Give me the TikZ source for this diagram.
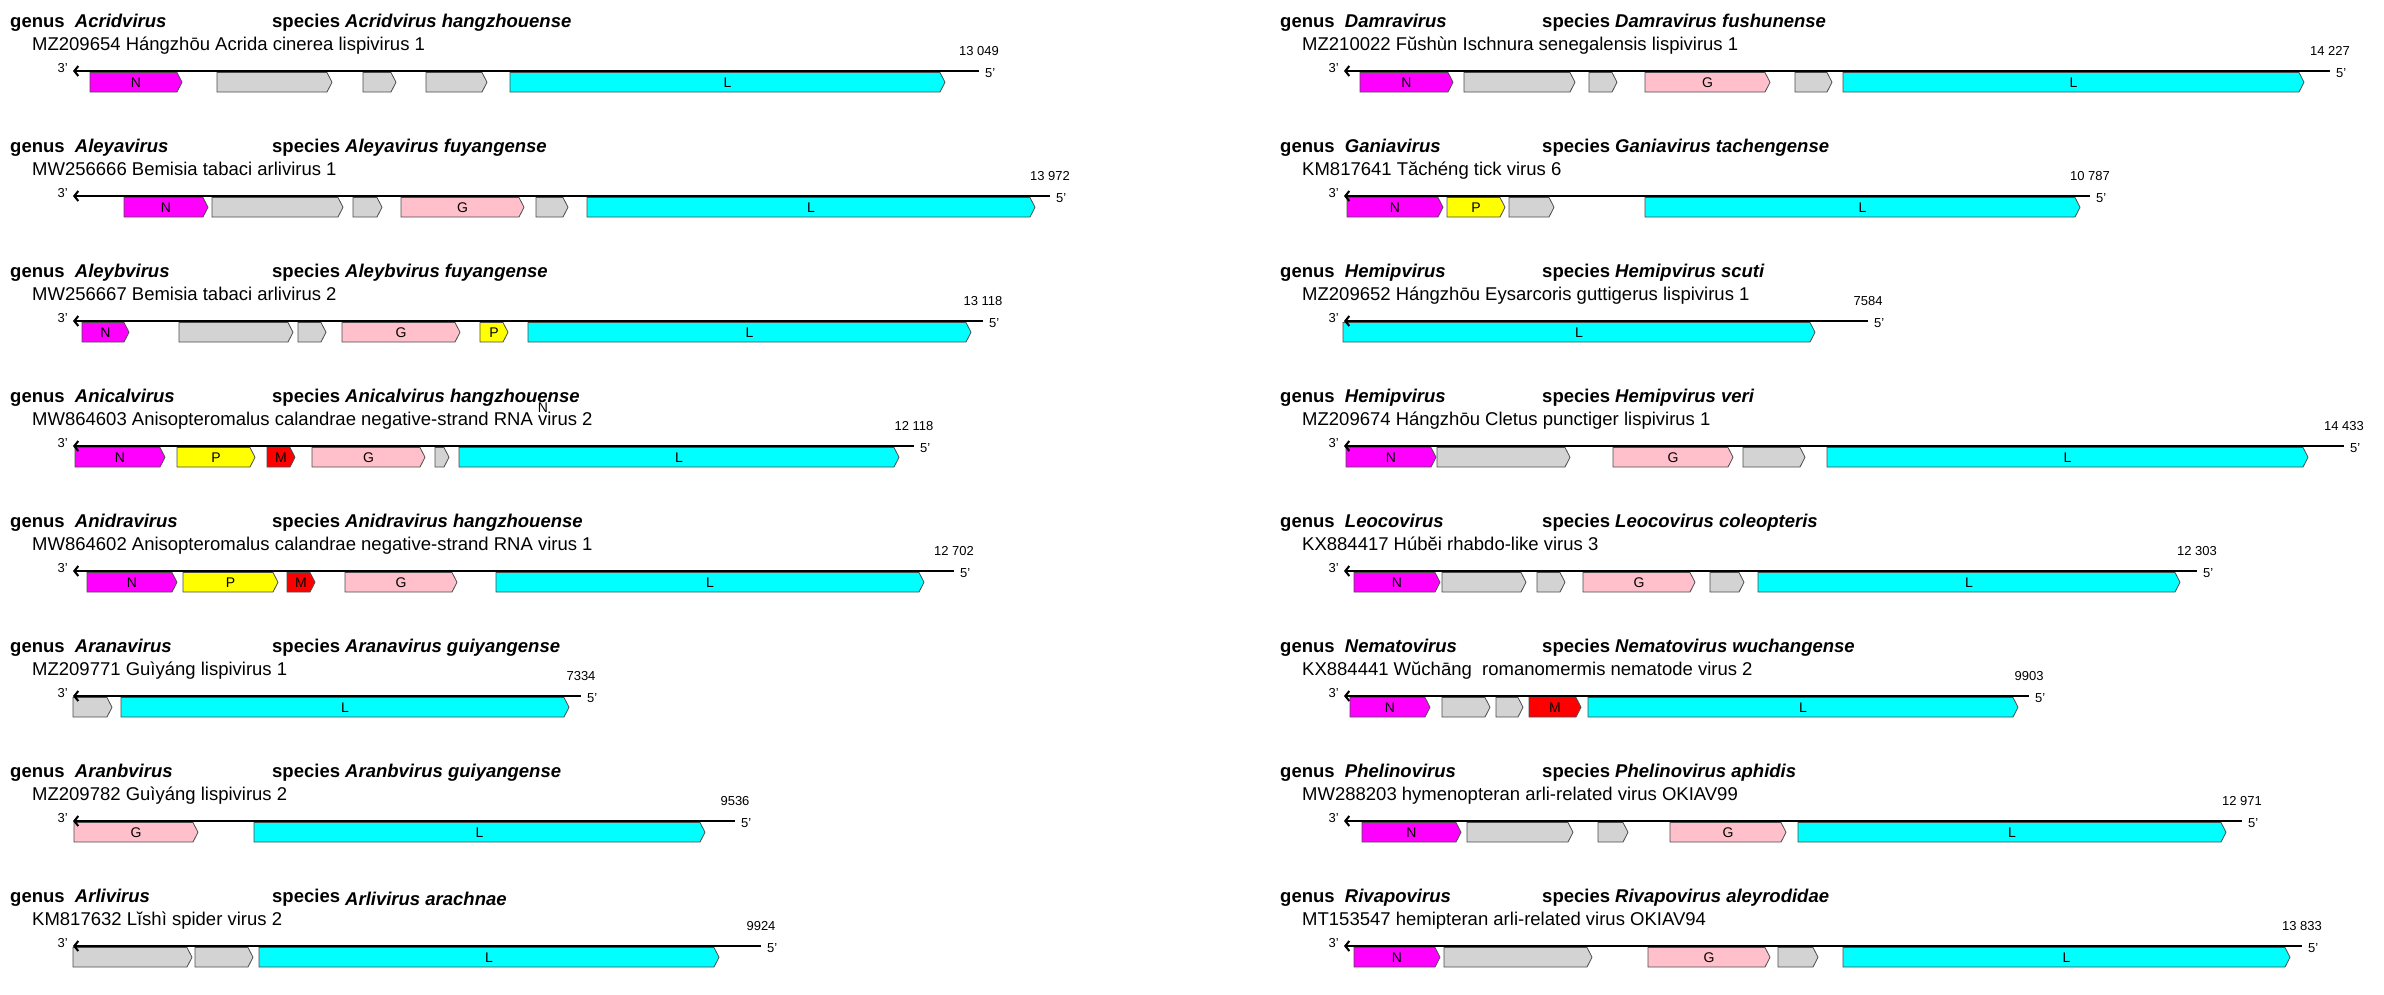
\documentclass[tikz,border=0pt]{standalone}
\usepackage{fontspec}
\setmainfont{Liberation Sans}
\usepackage{xcolor}
\usetikzlibrary{arrows.meta}

\definecolor{orfN}{RGB}{255,0,255}
\definecolor{orfP}{RGB}{255,255,0}
\definecolor{orfM}{RGB}{255,0,0}
\definecolor{orfG}{RGB}{255,192,203}
\definecolor{orfL}{RGB}{0,255,255}
\definecolor{orfX}{RGB}{211,211,211}

\begin{document}
\begin{tikzpicture}
[
	x=1pt, y=-1pt,
	genomeline/.style={line width=2pt, {Straight Barb[length=4pt,width=10pt]}-},
	orf/.style={draw=black!70, line width=0.8pt},
	orflabel/.style={font=\fontsize{14}{14}\selectfont, inner sep=0pt},
	endlabel/.style={font=\fontsize{13}{14}\selectfont, inner sep=0pt},
	titletext/.style={font=\fontsize{18.5}{20}\selectfont\bfseries, anchor=base west, inner sep=0pt},
	acctext/.style={font=\fontsize{18.5}{20}\selectfont, anchor=base west, inner sep=0pt}
]

% name, x, line y, genus, species, accession
\newcommand{\rowhead}[6]{%
	\node[titletext] (#1-genus) at (#2,#3-44) {genus~~\textit{#4}};
	\node[titletext] (#1-species) at (#2+262,#3-44) {species \textit{#5}};
	\node[acctext] (#1-acc) at (#2+22,#3-21) {#6};
}
% name, line y, 3' end, 5' end, length
\newcommand{\genome}[5]{%
	\coordinate (#1-3) at (#3,#2);
	\coordinate (#1-5) at (#4,#2);
	\draw[genomeline] (#1-3) -- (#1-5);
	\node[endlabel, anchor=base east] (#1-t3) at (#3-5,#2+1) {3'};
	\node[endlabel, anchor=base west] (#1-t5) at (#4+6,#2+6) {5'};
	\node[endlabel, anchor=base] (#1-len) at (#4,#2-16) {#5};
}
% name, line y, x from, x to, colour, label
\newcommand{\orf}[6]{%
	\filldraw[orf, fill=#5] (#3,#2+1.5) -- (#4-5,#2+1.5) -- (#4,#2+11.25) -- (#4-5,#2+21) -- (#3,#2+21) -- cycle;
	\node[orflabel] (#1) at ({(#3+#4)/2},#2+11.5) {#6};
}

\useasboundingbox (0,0) rectangle (2384,994);

% Left column
% Acridvirus
\rowhead{acr}{10}{71}{Acridvirus}{Acridvirus hangzhouense}{MZ209654 Hángzhōu Acrida cinerea lispivirus 1}
\orf{acr1}{71}{90}{182}{orfN}{N}
\orf{acr2}{71}{217}{332}{orfX}{}
\orf{acr3}{71}{363}{396}{orfX}{}
\orf{acr4}{71}{426}{487}{orfX}{}
\orf{acr5}{71}{510}{945}{orfL}{L}
\genome{acr}{71}{73}{979}{13 049}

% Aleyavirus
\rowhead{aya}{10}{196}{Aleyavirus}{Aleyavirus fuyangense}{MW256666 Bemisia tabaci arlivirus 1}
\orf{aya1}{196}{124}{208}{orfN}{N}
\orf{aya2}{196}{212}{343}{orfX}{}
\orf{aya3}{196}{353}{382}{orfX}{}
\orf{aya4}{196}{401}{524}{orfG}{G}
\orf{aya5}{196}{536}{568}{orfX}{}
\orf{aya6}{196}{587}{1035}{orfL}{L}
\genome{aya}{196}{73}{1050}{13 972}

% Aleybvirus
\rowhead{ayb}{10}{321}{Aleybvirus}{Aleybvirus fuyangense}{MW256667 Bemisia tabaci arlivirus 2}
\orf{ayb1}{321}{82}{129}{orfN}{N}
\orf{ayb2}{321}{179}{293}{orfX}{}
\orf{ayb3}{321}{298}{326}{orfX}{}
\orf{ayb4}{321}{342}{460}{orfG}{G}
\orf{ayb5}{321}{480}{508}{orfP}{P}
\orf{ayb6}{321}{528}{971}{orfL}{L}
\genome{ayb}{321}{73}{983}{13 118}

% Anicalvirus
\rowhead{anc}{10}{446}{Anicalvirus}{Anicalvirus hangzhouense}{MW864603 Anisopteromalus calandrae negative-strand RNA virus 2}
\node[endlabel, font=\fontsize{14}{14}\selectfont, anchor=base] (anc-stray) at (543,412) {N};
\orf{anc1}{446}{75}{165}{orfN}{N}
\orf{anc2}{446}{177}{255}{orfP}{P}
\orf{anc3}{446}{267}{295}{orfM}{M}
\orf{anc4}{446}{312}{425}{orfG}{G}
\orf{anc5}{446}{435}{449}{orfX}{}
\orf{anc6}{446}{459}{899}{orfL}{L}
\genome{anc}{446}{73}{914}{12 118}

% Anidravirus
\rowhead{and}{10}{571}{Anidravirus}{Anidravirus hangzhouense}{MW864602 Anisopteromalus calandrae negative-strand RNA virus 1}
\orf{and1}{571}{87}{177}{orfN}{N}
\orf{and2}{571}{183}{278}{orfP}{P}
\orf{and3}{571}{287}{315}{orfM}{M}
\orf{and4}{571}{345}{457}{orfG}{G}
\orf{and5}{571}{496}{924}{orfL}{L}
\genome{and}{571}{73}{954}{12 702}

% Aranavirus
\rowhead{ara}{10}{696}{Aranavirus}{Aranavirus guiyangense}{MZ209771 Guìyáng lispivirus 1}
\orf{ara1}{696}{73}{112}{orfX}{}
\orf{ara2}{696}{121}{569}{orfL}{L}
\genome{ara}{696}{73}{581}{7334}

% Aranbvirus
\rowhead{arb}{10}{821}{Aranbvirus}{Aranbvirus guiyangense}{MZ209782 Guìyáng lispivirus 2}
\orf{arb1}{821}{74}{198}{orfG}{G}
\orf{arb2}{821}{254}{705}{orfL}{L}
\genome{arb}{821}{73}{735}{9536}

% Arlivirus
\rowhead{arl}{10}{946}{Arlivirus}{\raisebox{-3pt}{Arlivirus arachnae}}{KM817632 Lĭshì spider virus 2}
\orf{arl1}{946}{73}{192}{orfX}{}
\orf{arl2}{946}{195}{253}{orfX}{}
\orf{arl3}{946}{259}{719}{orfL}{L}
\genome{arl}{946}{73}{761}{9924}

% Right column
% Damravirus
\rowhead{dam}{1280}{71}{Damravirus}{Damravirus fushunense}{MZ210022 Fŭshùn Ischnura senegalensis lispivirus 1}
\orf{dam1}{71}{1360}{1453}{orfN}{N}
\orf{dam2}{71}{1464}{1575}{orfX}{}
\orf{dam3}{71}{1589}{1617}{orfX}{}
\orf{dam4}{71}{1645}{1770}{orfG}{G}
\orf{dam5}{71}{1795}{1832}{orfX}{}
\orf{dam6}{71}{1843}{2304}{orfL}{L}
\genome{dam}{71}{1344}{2330}{14 227}

% Ganiavirus
\rowhead{gan}{1280}{196}{Ganiavirus}{Ganiavirus tachengense}{KM817641 Tăchéng tick virus 6}
\orf{gan1}{196}{1347}{1443}{orfN}{N}
\orf{gan2}{196}{1447}{1505}{orfP}{P}
\orf{gan3}{196}{1509}{1554}{orfX}{}
\orf{gan4}{196}{1645}{2080}{orfL}{L}
\genome{gan}{196}{1344}{2090}{10 787}

% Hemipvirus scuti
\rowhead{hms}{1280}{321}{Hemipvirus}{Hemipvirus scuti}{MZ209652 Hángzhōu Eysarcoris guttigerus lispivirus 1}
\orf{hms1}{321}{1343}{1815}{orfL}{L}
\genome{hms}{321}{1344}{1868}{7584}

% Hemipvirus veri
\rowhead{hmv}{1280}{446}{Hemipvirus}{Hemipvirus veri}{MZ209674 Hángzhōu Cletus punctiger lispivirus 1}
\orf{hmv1}{446}{1346}{1436}{orfN}{N}
\orf{hmv2}{446}{1437}{1570}{orfX}{}
\orf{hmv3}{446}{1613}{1733}{orfG}{G}
\orf{hmv4}{446}{1743}{1805}{orfX}{}
\orf{hmv5}{446}{1827}{2308}{orfL}{L}
\genome{hmv}{446}{1344}{2344}{14 433}

% Leocovirus
\rowhead{leo}{1280}{571}{Leocovirus}{Leocovirus coleopteris}{KX884417 Húbĕi rhabdo-like virus 3}
\orf{leo1}{571}{1354}{1440}{orfN}{N}
\orf{leo2}{571}{1442}{1526}{orfX}{}
\orf{leo3}{571}{1537}{1565}{orfX}{}
\orf{leo4}{571}{1583}{1695}{orfG}{G}
\orf{leo5}{571}{1710}{1744}{orfX}{}
\orf{leo6}{571}{1758}{2180}{orfL}{L}
\genome{leo}{571}{1344}{2197}{12 303}

% Nematovirus
\rowhead{nem}{1280}{696}{Nematovirus}{Nematovirus wuchangense}{KX884441 Wŭchāng~~romanomermis nematode virus 2}
\orf{nem1}{696}{1350}{1430}{orfN}{N}
\orf{nem2}{696}{1442}{1490}{orfX}{}
\orf{nem3}{696}{1496}{1523}{orfX}{}
\orf{nem4}{696}{1529}{1581}{orfM}{M}
\orf{nem5}{696}{1588}{2018}{orfL}{L}
\genome{nem}{696}{1344}{2029}{9903}

% Phelinovirus
\rowhead{phe}{1280}{821}{Phelinovirus}{Phelinovirus aphidis}{MW288203 hymenopteran arli-related virus OKIAV99}
\orf{phe1}{821}{1362}{1461}{orfN}{N}
\orf{phe2}{821}{1467}{1573}{orfX}{}
\orf{phe3}{821}{1598}{1628}{orfX}{}
\orf{phe4}{821}{1670}{1786}{orfG}{G}
\orf{phe5}{821}{1798}{2226}{orfL}{L}
\genome{phe}{821}{1344}{2242}{12 971}

% Rivapovirus
\rowhead{riv}{1280}{946}{Rivapovirus}{Rivapovirus aleyrodidae}{MT153547 hemipteran arli-related virus OKIAV94}
\orf{riv1}{946}{1354}{1440}{orfN}{N}
\orf{riv2}{946}{1444}{1592}{orfX}{}
\orf{riv3}{946}{1648}{1770}{orfG}{G}
\orf{riv4}{946}{1778}{1818}{orfX}{}
\orf{riv5}{946}{1843}{2290}{orfL}{L}
\genome{riv}{946}{1344}{2302}{13 833}

\end{tikzpicture}
\end{document}
